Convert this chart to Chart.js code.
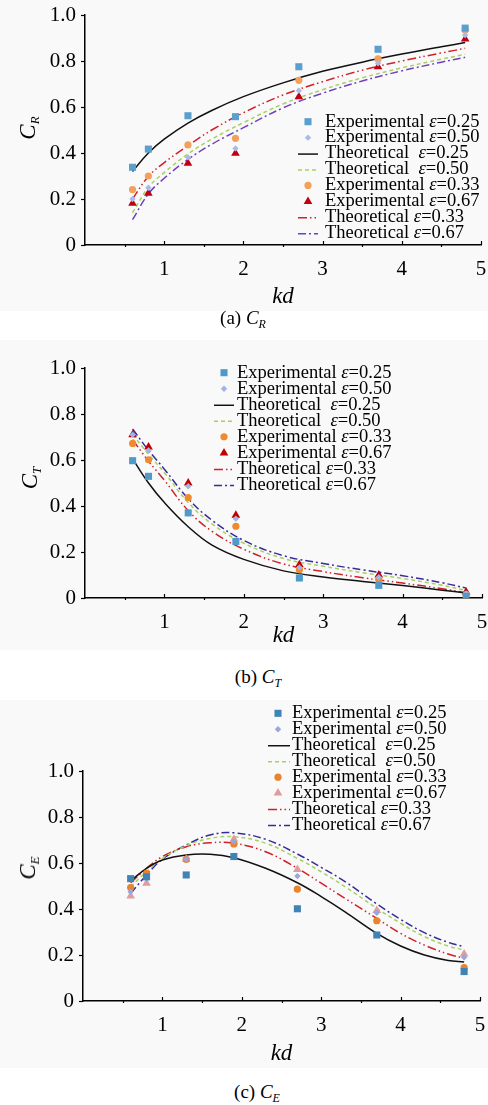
<!DOCTYPE html>
<html>
<head>
<meta charset="utf-8">
<script src="https://cdn.jsdelivr.net/npm/chart.js@4/dist/chart.umd.min.js"></script>
<style>
  html, body { margin:0; padding:0; background:#fff; }
  body { width:488px; height:1105px; position:relative; overflow:hidden; font-family:"Liberation Serif","Times New Roman",serif; }
  canvas { position:absolute; left:0; background:#f9f9f9; }
  .ytitle { position:absolute; transform:translate(-50%,-50%) rotate(-90deg); font-style:italic; font-size:23px; white-space:nowrap; color:#000; }
  .ytitle sub { font-size:13px; vertical-align:-4px; }
  .cap { position:absolute; transform:translate(-50%,-50%); font-size:19px; white-space:nowrap; color:#000; }
  .cap sub { font-size:12px; vertical-align:-4px; font-style:italic; }
</style>
</head>
<body>
<canvas id="c1" width="488" height="311" style="top:0px"></canvas>
<canvas id="c2" width="488" height="310" style="top:340px"></canvas>
<canvas id="c3" width="488" height="368" style="top:700px"></canvas>

<div class="ytitle" style="left:29px;top:128px"><i>C</i><sub>R</sub></div>
<div class="ytitle" style="left:31px;top:478px"><i>C</i><sub>T</sub></div>
<div class="ytitle" style="left:29px;top:868px"><i>C</i><sub>E</sub></div>

<div class="cap" style="left:243px;top:319px">(a) <i>C</i><sub>R</sub></div>
<div class="cap" style="left:258px;top:678px">(b) <i>C</i><sub>T</sub></div>
<div class="cap" style="left:257px;top:1093px">(c) <i>C</i><sub>E</sub></div>

<script>
// ---------- DATA ----------
const kdExp = [0.6, 0.8, 1.3, 1.9, 2.7, 3.7, 4.8];
const xTickLabels = ['1', '2', '3', '4', '5'];
const yTickLabels = ['0', '0.2', '0.4', '0.6', '0.8', '1.0'];

// (a) C_R
const crExp025 = [0.338, 0.417, 0.562, 0.558, 0.775, 0.851, 0.943];
const crExp050 = [0.200, 0.249, 0.381, 0.420, 0.671, 0.790, 0.913];
const crExp033 = [0.241, 0.300, 0.435, 0.464, 0.716, 0.809, 0.935];
const crExp067 = [0.181, 0.225, 0.355, 0.399, 0.645, 0.775, 0.896];
const kdTheoR  = [0.6, 0.8, 1.0, 1.3, 1.6, 2.0, 2.5, 3.0, 3.5, 4.0, 4.5, 4.8];
const crTheo025 = [0.320, 0.400, 0.460, 0.530, 0.585, 0.645, 0.705, 0.755, 0.795, 0.830, 0.862, 0.880];
const crTheo033 = [0.200, 0.298, 0.358, 0.432, 0.500, 0.575, 0.652, 0.710, 0.760, 0.800, 0.835, 0.855];
const crTheo050 = [0.140, 0.250, 0.315, 0.396, 0.460, 0.532, 0.613, 0.675, 0.727, 0.770, 0.808, 0.829];
const crTheo067 = [0.110, 0.222, 0.290, 0.372, 0.438, 0.510, 0.596, 0.660, 0.713, 0.757, 0.795, 0.816];

// (b) C_T
const ctExp025 = [0.597, 0.529, 0.370, 0.246, 0.087, 0.055, 0.007];
const ctExp050 = [0.710, 0.642, 0.486, 0.345, 0.133, 0.090, 0.020];
const ctExp033 = [0.672, 0.601, 0.436, 0.312, 0.123, 0.080, 0.015];
const ctExp067 = [0.710, 0.657, 0.500, 0.360, 0.145, 0.100, 0.026];
const kdTheoT  = [0.6, 0.8, 1.0, 1.3, 1.6, 2.0, 2.5, 3.0, 3.5, 4.0, 4.5, 4.8];
const ctTheo025 = [0.605, 0.500, 0.415, 0.310, 0.230, 0.168, 0.118, 0.091, 0.072, 0.054, 0.034, 0.022];
const ctTheo033 = [0.688, 0.595, 0.512, 0.380, 0.290, 0.212, 0.148, 0.115, 0.088, 0.065, 0.040, 0.022];
const ctTheo050 = [0.710, 0.625, 0.545, 0.415, 0.322, 0.238, 0.172, 0.138, 0.110, 0.085, 0.055, 0.033];
const ctTheo067 = [0.735, 0.642, 0.560, 0.432, 0.338, 0.250, 0.184, 0.150, 0.122, 0.097, 0.066, 0.043];

// (c) C_E
const ceExp025 = [0.532, 0.540, 0.548, 0.628, 0.401, 0.287, 0.128];
const ceExp050 = [0.475, 0.533, 0.616, 0.693, 0.543, 0.384, 0.190];
const ceExp033 = [0.493, 0.555, 0.616, 0.683, 0.486, 0.349, 0.145];
const ceExp067 = [0.457, 0.512, 0.616, 0.703, 0.572, 0.393, 0.204];
const kdTheoE  = [0.6, 0.8, 1.0, 1.3, 1.6, 1.9, 2.3, 2.7, 3.0, 3.3, 3.7, 4.0, 4.3, 4.6, 4.8];
const ceTheo025 = [0.522, 0.577, 0.613, 0.635, 0.638, 0.623, 0.577, 0.514, 0.454, 0.388, 0.294, 0.239, 0.200, 0.176, 0.170];
const ceTheo033 = [0.514, 0.577, 0.628, 0.671, 0.688, 0.686, 0.649, 0.577, 0.512, 0.446, 0.359, 0.294, 0.243, 0.204, 0.186];
const ceTheo050 = [0.497, 0.562, 0.620, 0.675, 0.707, 0.714, 0.686, 0.620, 0.562, 0.497, 0.403, 0.338, 0.280, 0.239, 0.222];
const ceTheo067 = [0.468, 0.548, 0.616, 0.678, 0.722, 0.731, 0.703, 0.639, 0.581, 0.519, 0.422, 0.355, 0.297, 0.255, 0.236];

const legendLabels = [
  ['Experimental ', '0.25'],
  ['Experimental ', '0.50'],
  ['Theoretical  ', '0.25'],
  ['Theoretical  ', '0.50'],
  ['Experimental ', '0.33'],
  ['Experimental ', '0.67'],
  ['Theoretical ', '0.33'],
  ['Theoretical ', '0.67']
];

// ---------- HELPERS ----------
const FONT = '"Liberation Serif", "Times New Roman", serif';
const LEG = 18.5;
const pts = (xs, ys) => xs.map((x, i) => ({ x: x, y: ys[i] }));

function expDs(ys, style, color, r) {
  return { type: 'scatter', data: pts(kdExp, ys), pointStyle: style, pointRadius: r,
    pointHoverRadius: r, backgroundColor: color, borderColor: color, pointBorderWidth: 0, order: 0 };
}
function theoDs(xs, ys, color, dash) {
  return { type: 'line', data: pts(xs, ys), borderColor: color, backgroundColor: color,
    borderWidth: 1.5, borderDash: dash, pointRadius: 0, tension: 0.4,
    fill: false, order: 1 };
}

function drawMarker(ctx, style, x, y, r, color) {
  ctx.fillStyle = color;
  ctx.beginPath();
  if (style === 'rect') {
    const s = r * Math.SQRT1_2;
    ctx.rect(x - s, y - s, 2 * s, 2 * s);
  } else if (style === 'rectRot') {
    ctx.moveTo(x, y - r); ctx.lineTo(x + r, y); ctx.lineTo(x, y + r); ctx.lineTo(x - r, y); ctx.closePath();
  } else if (style === 'triangle') {
    ctx.moveTo(x, y - r); ctx.lineTo(x + r * 0.866, y + r * 0.5); ctx.lineTo(x - r * 0.866, y + r * 0.5); ctx.closePath();
  } else {
    ctx.arc(x, y, r, 0, Math.PI * 2);
  }
  ctx.fill();
}

const axisTicks = {
  id: 'axisTicks',
  afterDraw(chart) {
    const { ctx } = chart; const x = chart.scales.x, y = chart.scales.y;
    ctx.save(); ctx.strokeStyle = '#000'; ctx.lineWidth = 1.2;
    for (let k = 1; k <= 10; k++) {
      const v = k / 2; const px = Math.round(x.getPixelForValue(v)) + 0.5;
      ctx.beginPath();
      if (k % 2 === 0) { ctx.moveTo(px, y.bottom); ctx.lineTo(px, y.bottom - 4); }
      else { ctx.moveTo(px, y.bottom); ctx.lineTo(px, y.bottom + 2); }
      ctx.stroke();
    }
    for (let k = 0; k <= 5; k++) {
      const py = Math.round(y.getPixelForValue(k * 0.2)) + 0.5;
      ctx.beginPath(); ctx.moveTo(x.left - 4, py); ctx.lineTo(x.left, py); ctx.stroke();
    }
    ctx.restore();
  }
};

const epsLegend = {
  id: 'epsLegend',
  afterDraw(chart, args, o) {
    const ctx = chart.ctx; ctx.save();
    ctx.textBaseline = 'middle';
    chart.data.datasets.forEach((ds, i) => {
      const yy = o.y0 + i * o.dy;
      if (ds.type === 'scatter') {
        drawMarker(ctx, ds.pointStyle, o.mx, yy, ds.pointRadius, ds.backgroundColor);
      } else {
        ctx.strokeStyle = ds.borderColor; ctx.lineWidth = 1.5;
        ctx.setLineDash(ds.borderDash || []);
        ctx.beginPath(); ctx.moveTo(o.lx1, yy + 0.5); ctx.lineTo(o.lx2, yy + 0.5); ctx.stroke();
        ctx.setLineDash([]);
      }
      const lab = legendLabels[i];
      let tx = o.tx;
      ctx.fillStyle = '#000';
      ctx.font = LEG + 'px ' + FONT;
      ctx.fillText(lab[0], tx, yy); tx += ctx.measureText(lab[0]).width;
      ctx.font = 'italic ' + LEG + 'px ' + FONT;
      ctx.fillText('\u03b5', tx, yy); tx += ctx.measureText('\u03b5').width;
      ctx.font = LEG + 'px ' + FONT;
      ctx.fillText('=' + lab[1], tx, yy);
    });
    ctx.restore();
  }
};

function makeChart(id, datasets, pad, yWidth, xHeight, legend) {
  new Chart(document.getElementById(id), {
    data: { datasets: datasets },
    options: {
      responsive: false, animation: false, devicePixelRatio: 1,
      layout: { padding: pad },
      plugins: { legend: { display: false }, tooltip: { enabled: false }, epsLegend: legend },
      scales: {
        x: {
          type: 'linear', min: 0, max: 5,
          grid: { display: false, drawTicks: false },
          border: { display: true, color: '#000', width: 1.5 },
          ticks: { stepSize: 1, padding: 12, color: '#000', maxRotation: 0,
            font: { family: FONT, size: 21 },
            callback: (v) => (v >= 1 ? xTickLabels[Math.round(v) - 1] : '') },
          title: { display: true, text: 'kd', color: '#000', padding: 0,
            font: { family: FONT, size: 23, style: 'italic' } },
          afterFit: (s) => { s.height = xHeight; s.paddingLeft = 0; s.paddingRight = 0; }
        },
        y: {
          type: 'linear', min: 0, max: 1,
          grid: { display: false, drawTicks: false },
          border: { display: true, color: '#000', width: 1.5 },
          ticks: { stepSize: 0.2, padding: 9, color: '#000',
            font: { family: FONT, size: 21 },
            callback: (v) => yTickLabels[Math.round(v / 0.2)] },
          afterFit: (s) => { s.width = yWidth; s.paddingTop = 0; s.paddingBottom = 0; }
        }
      }
    },
    plugins: [axisTicks, epsLegend]
  });
}

function build() {
  // (a) C_R
  makeChart('c1', [
    expDs(crExp025, 'rect', '#5b9fcf', 5),
    expDs(crExp050, 'rectRot', '#a8bce8', 3.2),
    theoDs(kdTheoR, crTheo025, '#111111', []),
    theoDs(kdTheoR, crTheo050, '#a6d15e', [4, 3]),
    expDs(crExp033, 'circle', '#f4a05a', 3.6),
    expDs(crExp067, 'triangle', '#c00010', 5),
    theoDs(kdTheoR, crTheo033, '#d0202a', [9, 3, 1.5, 3, 1.5, 3]),
    theoDs(kdTheoR, crTheo067, '#7040c0', [8, 3, 2, 3])
  ], { left: 0, right: 7, top: 15, bottom: 0 }, 85, 66,
    { mx: 308, lx1: 298, lx2: 318, tx: 325, y0: 121.7, dy: 15.94 });

  // (b) C_T
  makeChart('c2', [
    expDs(ctExp025, 'rect', '#4f9acb', 5),
    expDs(ctExp050, 'rectRot', '#a0b4e6', 3.2),
    theoDs(kdTheoT, ctTheo025, '#111111', []),
    theoDs(kdTheoT, ctTheo050, '#a6d15e', [4, 3]),
    expDs(ctExp033, 'circle', '#f08a30', 3.6),
    expDs(ctExp067, 'triangle', '#c00000', 5),
    theoDs(kdTheoT, ctTheo033, '#d0202a', [9, 3, 1.5, 3, 1.5, 3]),
    theoDs(kdTheoT, ctTheo067, '#3a2aa0', [8, 3, 2, 3])
  ], { left: 0, right: 6, top: 28, bottom: 0 }, 85, 52,
    { mx: 224, lx1: 214, lx2: 234, tx: 237, y0: 32.7, dy: 16.04 });

  // (c) C_E
  makeChart('c3', [
    expDs(ceExp025, 'rect', '#3f84b5', 5),
    expDs(ceExp050, 'rectRot', '#9aa6dc', 3.2),
    theoDs(kdTheoE, ceTheo025, '#111111', []),
    theoDs(kdTheoE, ceTheo050, '#a6d15e', [4, 3]),
    expDs(ceExp033, 'circle', '#e8832e', 3.6),
    expDs(ceExp067, 'triangle', '#e09c9c', 5),
    theoDs(kdTheoE, ceTheo033, '#d0202a', [9, 3, 1.5, 3, 1.5, 3]),
    theoDs(kdTheoE, ceTheo067, '#3a2aa0', [8, 3, 2, 3])
  ], { left: 0, right: 8, top: 71, bottom: 0 }, 83, 67,
    { mx: 278, lx1: 268, lx2: 290, tx: 292, y0: 13.3, dy: 15.96 });
}

Promise.all([
  document.fonts.load('18px "Liberation Serif"'),
  document.fonts.load('italic 18px "Liberation Serif"')
]).catch(() => {}).then(build);
</script>
</body>
</html>
